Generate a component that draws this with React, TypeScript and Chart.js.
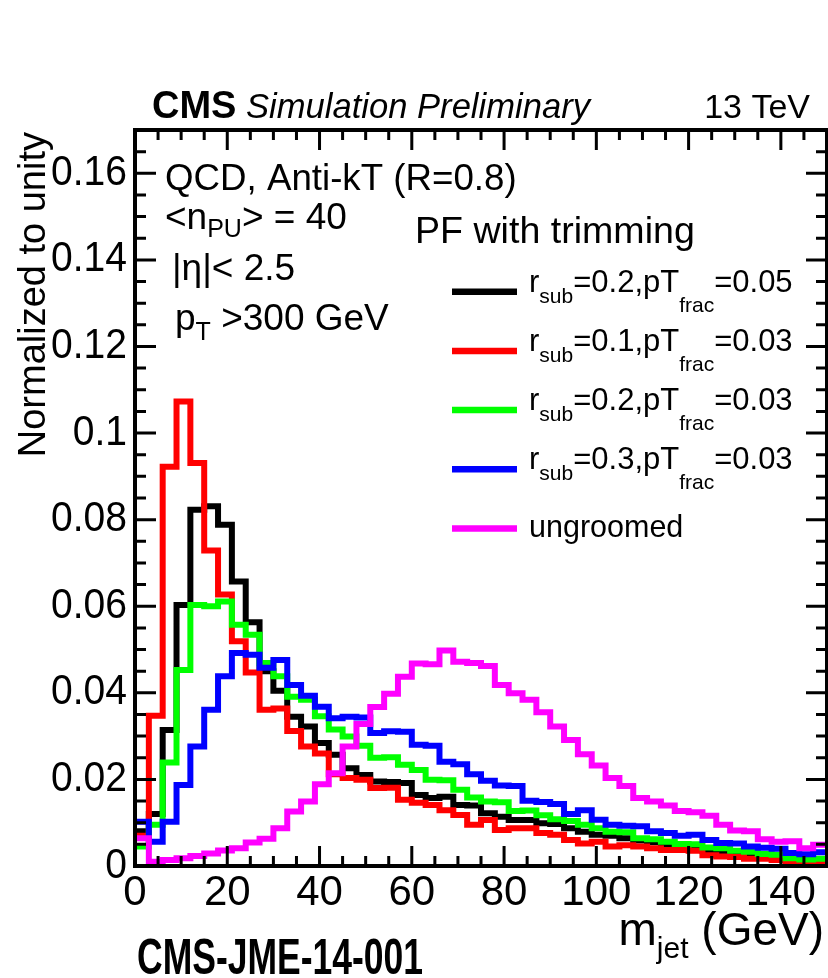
import React, { useEffect, useRef } from "react";
import { Chart, registerables } from "chart.js";

Chart.register(...registerables);

// ---------- data ----------
const BIN_WIDTH = 3; // GeV
const X_MIN = 0;
const X_MAX = 150;
const Y_MIN = 0;
const Y_MAX = 0.17;

const xTickValues = [0, 20, 40, 60, 80, 100, 120, 140];
const xTickLabels = ["0", "20", "40", "60", "80", "100", "120", "140"];
const yTickValues = [0, 0.02, 0.04, 0.06, 0.08, 0.1, 0.12, 0.14, 0.16];
const yTickLabels = ["0", "0.02", "0.04", "0.06", "0.08", "0.1", "0.12", "0.14", "0.16"];

// r_sub=0.2, pT_frac=0.05
const trimBlack = [
  0.008, 0.012, 0.0314, 0.0603, 0.0823, 0.0831, 0.0788, 0.0657, 0.0563, 0.045,
  0.0405, 0.0345, 0.0322, 0.0284, 0.0257, 0.0226, 0.021, 0.0195, 0.0194, 0.0192,
  0.0164, 0.0157, 0.016, 0.0141, 0.014, 0.0122, 0.0114, 0.0106, 0.0106, 0.0099,
  0.0097, 0.0087, 0.0079, 0.0072, 0.007, 0.0064, 0.0059, 0.0055, 0.0049, 0.0046,
  0.004, 0.0036, 0.0034, 0.003, 0.0027, 0.0023, 0.002, 0.0015, 0.0012, 0.001,
];
// r_sub=0.1, pT_frac=0.03
const trimRed = [
  0.007, 0.0347, 0.0922, 0.1073, 0.0931, 0.0729, 0.0627, 0.0519, 0.0447, 0.0361,
  0.0364, 0.0312, 0.0276, 0.026, 0.0212, 0.0203, 0.0199, 0.018, 0.0181, 0.0153,
  0.0146, 0.0141, 0.0129, 0.0118, 0.0095, 0.0106, 0.0083, 0.0087, 0.0087, 0.0076,
  0.0072, 0.006, 0.0052, 0.0056, 0.0045, 0.0048, 0.0045, 0.0041, 0.0037, 0.0037,
  0.0035, 0.0025, 0.0022, 0.0021, 0.0017, 0.0017, 0.0014, 0.001, 0.0009, 0.0005,
];
// r_sub=0.2, pT_frac=0.03
const trimGreen = [
  0.0045, 0.0095, 0.0239, 0.0453, 0.0603, 0.06, 0.0611, 0.0557, 0.0534, 0.0469,
  0.0438, 0.0391, 0.0384, 0.0346, 0.0315, 0.0299, 0.0278, 0.025, 0.0251, 0.0234,
  0.0222, 0.0199, 0.0198, 0.0176, 0.0158, 0.0149, 0.0147, 0.0127, 0.0128, 0.0117,
  0.0108, 0.0104, 0.0095, 0.0087, 0.0079, 0.0078, 0.0064, 0.0062, 0.0056, 0.0051,
  0.005, 0.0043, 0.0041, 0.0035, 0.0033, 0.0028, 0.0026, 0.0018, 0.0015, 0.0017,
];
// r_sub=0.3, pT_frac=0.03
const trimBlue = [
  0.0102, 0.0056, 0.0102, 0.0187, 0.0276, 0.0361, 0.0438, 0.0492, 0.0488, 0.0458,
  0.0476, 0.0418, 0.0393, 0.0368, 0.0341, 0.0345, 0.0343, 0.0307, 0.0311, 0.031,
  0.028, 0.0278, 0.0241, 0.0235, 0.0212, 0.0197, 0.0186, 0.0185, 0.0151, 0.0148,
  0.0143, 0.012, 0.0129, 0.0107, 0.0095, 0.0093, 0.0092, 0.008, 0.0076, 0.007,
  0.0072, 0.006, 0.0053, 0.0052, 0.0045, 0.0042, 0.004, 0.003, 0.0027, 0.0032,
];
// ungroomed
const ungroomed = [
  0.0064, 0.001, 0.0014, 0.0018, 0.0023, 0.0029, 0.0036, 0.0041, 0.0054, 0.0063,
  0.0087, 0.0126, 0.0149, 0.0189, 0.0214, 0.0276, 0.0328, 0.0367, 0.0398, 0.0437,
  0.0468, 0.0466, 0.0498, 0.0472, 0.0469, 0.0462, 0.0418, 0.0399, 0.0384, 0.0355,
  0.0322, 0.0291, 0.0258, 0.0232, 0.0203, 0.0185, 0.0157, 0.0149, 0.014, 0.0127,
  0.0124, 0.0116, 0.0095, 0.0082, 0.008, 0.0062, 0.0056, 0.0057, 0.0041, 0.0049,
];

const seriesValues = [trimBlack, trimRed, trimGreen, trimBlue, ungroomed];
const seriesColors = ["#000000", "#ff0000", "#00ff00", "#0000ff", "#ff00ff"];
const legendRsub = ["0.2", "0.1", "0.2", "0.3", ""];
const legendPtFrac = ["0.05", "0.03", "0.03", "0.03", ""];
const legendPlain = ["", "", "", "", "ungroomed"];

// ---------- helpers ----------
const FONT = '"Liberation Sans", Arial, Helvetica, sans-serif';

function histPoints(vals: number[]) {
  const pts: { x: number; y: number }[] = [];
  vals.forEach((v, i) => {
    pts.push({ x: X_MIN + i * BIN_WIDTH, y: v });
    pts.push({ x: X_MIN + (i + 1) * BIN_WIDTH, y: v });
  });
  return pts;
}

type TOpt = {
  size: number;
  weight?: string;
  style?: string;
  align?: CanvasTextAlign;
  baseline?: CanvasTextBaseline;
  sx?: number;
};

function txt(ctx: CanvasRenderingContext2D, s: string, x: number, y: number, o: TOpt) {
  ctx.save();
  ctx.font = `${o.style || "normal"} ${o.weight || "normal"} ${o.size}px ${FONT}`;
  ctx.textAlign = o.align || "left";
  ctx.textBaseline = o.baseline || "alphabetic";
  ctx.fillStyle = "#000";
  ctx.translate(x, y);
  ctx.scale(o.sx || 1, 1);
  ctx.fillText(s, 0, 0);
  ctx.restore();
}

type Seg = { t: string; size: number; dy?: number };
function rich(ctx: CanvasRenderingContext2D, segs: Seg[], x: number, y: number, align: "left" | "right" = "left") {
  ctx.save();
  ctx.fillStyle = "#000";
  ctx.textBaseline = "alphabetic";
  ctx.textAlign = "left";
  let total = 0;
  const widths = segs.map((s) => {
    ctx.font = `normal normal ${s.size}px ${FONT}`;
    const w = ctx.measureText(s.t).width;
    total += w;
    return w;
  });
  let cx = align === "right" ? x - total : x;
  segs.forEach((s, i) => {
    ctx.font = `normal normal ${s.size}px ${FONT}`;
    ctx.fillText(s.t, cx, y + (s.dy || 0));
    cx += widths[i];
  });
  ctx.restore();
}

const decorPlugin = {
  id: "rootDecor",
  beforeDraw(chart: any) {
    const ctx = chart.ctx as CanvasRenderingContext2D;
    ctx.save();
    ctx.fillStyle = "#fff";
    ctx.fillRect(0, 0, chart.width, chart.height);
    ctx.restore();
  },
  afterDraw(chart: any) {
    const ctx = chart.ctx as CanvasRenderingContext2D;
    const xs = chart.scales.x;
    const ys = chart.scales.y;
    const { left, right, top, bottom } = chart.chartArea;

    // frame
    ctx.save();
    ctx.strokeStyle = "#000";
    ctx.lineWidth = 4;
    ctx.strokeRect(left, top, right - left, bottom - top);

    // ticks
    ctx.lineWidth = 3;
    ctx.beginPath();
    for (let v = X_MIN; v <= X_MAX + 1e-9; v += 5) {
      const px = xs.getPixelForValue(v);
      const major = Math.abs(v % 20) < 1e-9;
      const len = major ? 20 : 10;
      ctx.moveTo(px, bottom);
      ctx.lineTo(px, bottom - len);
      ctx.moveTo(px, top);
      ctx.lineTo(px, top + len);
    }
    for (let k = 0; k <= 34; k++) {
      const v = k * 0.005;
      const py = ys.getPixelForValue(v);
      const major = k % 4 === 0;
      const len = major ? 21 : 11;
      ctx.moveTo(left, py);
      ctx.lineTo(left + len, py);
      ctx.moveTo(right, py);
      ctx.lineTo(right - len, py);
    }
    ctx.stroke();
    ctx.restore();

    // tick labels
    xTickValues.forEach((v, i) => {
      txt(ctx, xTickLabels[i], xs.getPixelForValue(v), 872, { size: 42, baseline: "top", align: "center" });
    });
    yTickValues.forEach((v, i) => {
      txt(ctx, yTickLabels[i], 127, ys.getPixelForValue(v), { size: 42, baseline: "middle", align: "right", sx: 0.93 });
    });

    // axis titles
    ctx.save();
    ctx.translate(45, 132);
    ctx.rotate(-Math.PI / 2);
    txt(ctx, "Normalized to unity", 0, 0, { size: 38, align: "right" });
    ctx.restore();
    rich(ctx, [
      { t: "m", size: 46 },
      { t: "jet", size: 30, dy: 13 },
      { t: " (GeV)", size: 46 },
    ], 824, 945, "right");

    // header
    txt(ctx, "CMS", 152, 118, { size: 38, weight: "bold" });
    txt(ctx, "Simulation Preliminary", 246, 118, { size: 34.6, style: "italic" });
    txt(ctx, "13 TeV", 810, 118, { size: 34, align: "right" });
    txt(ctx, "CMS-JME-14-001", 137, 974, { size: 50, weight: "bold", sx: 0.71 });

    // info text
    txt(ctx, "QCD, Anti-kT (R=0.8)", 165, 190, { size: 36.7 });
    rich(ctx, [
      { t: "<n", size: 37 },
      { t: "PU", size: 25, dy: 8 },
      { t: "> = 40", size: 37 },
    ], 165, 229);
    txt(ctx, "|\u03b7|< 2.5", 172, 280, { size: 37 });
    rich(ctx, [
      { t: "p", size: 37 },
      { t: "T", size: 25, dy: 10 },
      { t: " >300 GeV", size: 37 },
    ], 175, 330);
    txt(ctx, "PF with trimming", 415, 243, { size: 37.6 });

    // legend
    const lx0 = 452;
    const lx1 = 517;
    const ly0 = 291.7;
    const dy = 59.2;
    seriesColors.forEach((c, i) => {
      const ly = ly0 + i * dy;
      ctx.save();
      ctx.strokeStyle = c;
      ctx.lineWidth = 6.5;
      ctx.beginPath();
      ctx.moveTo(lx0, ly);
      ctx.lineTo(lx1, ly);
      ctx.stroke();
      ctx.restore();
      if (legendPlain[i]) {
        txt(ctx, legendPlain[i], 529, ly + 8, { size: 30.5 });
      } else {
        rich(ctx, [
          { t: "r", size: 31 },
          { t: "sub", size: 21, dy: 11 },
          { t: "=" + legendRsub[i] + ",pT", size: 31 },
          { t: "frac", size: 21, dy: 20 },
          { t: "=" + legendPtFrac[i], size: 31 },
        ], 529, ly);
      }
    });
  },
};

export default function App() {
  const ref = useRef<HTMLCanvasElement>(null);
  useEffect(() => {
    document.body.style.margin = "0";
    const canvas = ref.current;
    if (!canvas) return;
    const datasets = seriesValues.map((vals, i) => ({
      label: legendPlain[i] || `rsub=${legendRsub[i]},pTfrac=${legendPtFrac[i]}`,
      data: histPoints(vals),
      borderColor: seriesColors[i],
      backgroundColor: seriesColors[i],
      borderWidth: 6,
      borderJoinStyle: "miter" as const,
      borderCapStyle: "butt" as const,
      pointRadius: 0,
      fill: false,
      tension: 0,
      order: seriesValues.length - i,
    }));
    const chart = new Chart(canvas, {
      type: "line",
      data: { datasets },
      options: {
        responsive: false,
        animation: false,
        devicePixelRatio: 1,
        events: [],
        layout: { padding: { left: 135, right: 1, top: 130, bottom: 112 } },
        plugins: {
          legend: { display: false },
          tooltip: { enabled: false },
          title: { display: false },
        },
        scales: {
          x: { type: "linear", min: X_MIN, max: X_MAX, display: false },
          y: { type: "linear", min: Y_MIN, max: Y_MAX, display: false },
        },
      },
      plugins: [decorPlugin],
    });
    return () => chart.destroy();
  }, []);
  return (
    <div style={{ position: "absolute", left: 0, top: 0, width: 828, height: 978, background: "#fff" }}>
      <canvas ref={ref} width={828} height={978} style={{ display: "block", width: 828, height: 978 }} />
    </div>
  );
}
